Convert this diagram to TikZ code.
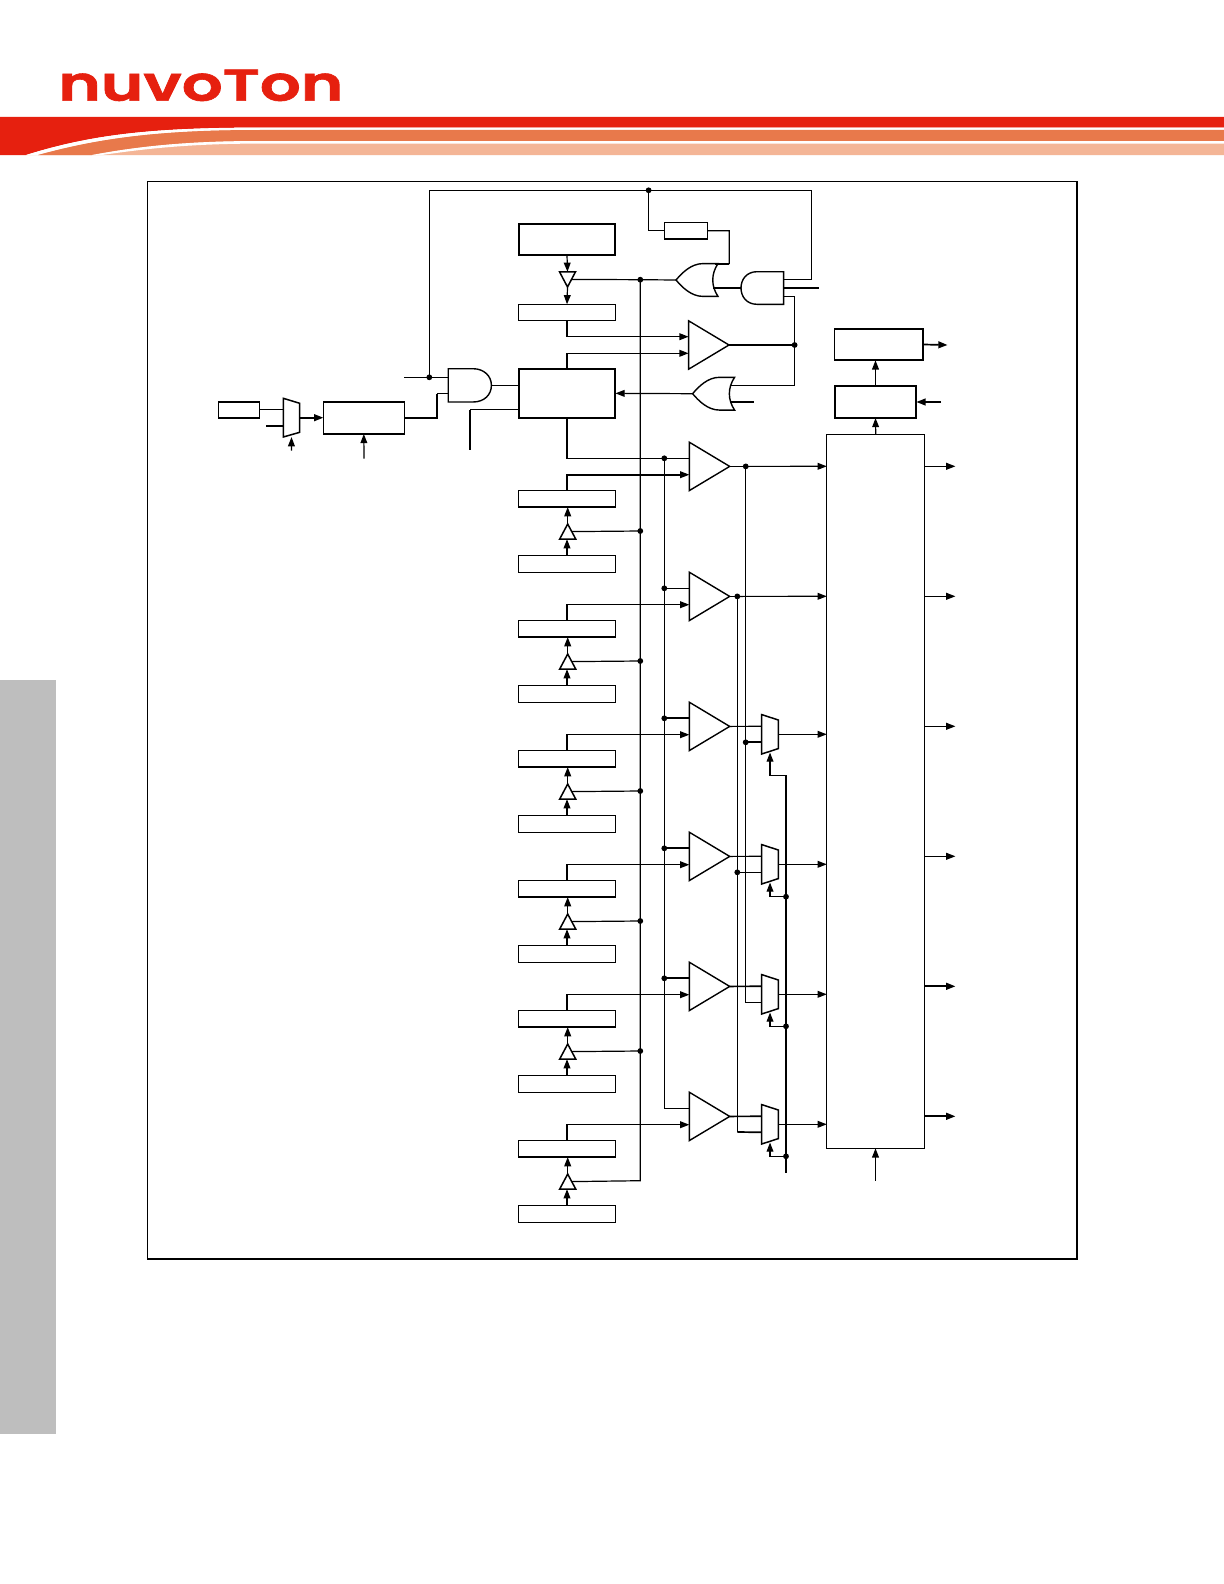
\documentclass[tikz,border=0pt]{standalone}
\usepackage{fontspec}
\usetikzlibrary{arrows.meta,shapes.geometric,calc}
\newfontfamily\logofont[BoldFont={Poppins SemiBold},BoldFeatures={FakeBold=1.2}]{Poppins}
\definecolor{nuvored}{HTML}{E6200F}
\definecolor{nuvoorange}{HTML}{E8794B}
\definecolor{nuvopeach}{HTML}{F4B596}
\definecolor{sidegray}{HTML}{BEBEBE}
\tikzset{
  x=0.5pt,y=-0.5pt,
  wire/.style={line width=0.6pt},
  wirem/.style={line width=0.85pt},
  wireb/.style={line width=1.15pt},
  arr/.style={-{Triangle[length=4.6pt,width=3.4pt]}},
  sbox/.style={draw,line width=0.7pt,inner sep=0pt,outer sep=0pt,fill=white},
  heavybox/.style={line width=1pt},
  joint/.style={circle,fill=black,inner sep=0pt,outer sep=0pt,minimum size=2.9pt},
  gatearea/.style={inner sep=0pt,outer sep=0pt},
  amp/.style={draw,line width=0.7pt,isosceles triangle,isosceles triangle stretches,inner sep=0pt,outer sep=0pt,
     shape border rotate=0,minimum width=24.2pt,minimum height=20.2pt,anchor=apex},
  bufup/.style={draw,line width=0.75pt,isosceles triangle,isosceles triangle stretches,inner sep=0pt,outer sep=0pt,
     shape border rotate=90,minimum width=8.1pt,minimum height=7.6pt,anchor=apex},
  bufdown/.style={draw,line width=0.75pt,isosceles triangle,isosceles triangle stretches,inner sep=0pt,outer sep=0pt,
     shape border rotate=270,minimum width=8pt,minimum height=7.6pt,anchor=apex},
}
% box by its corners, in reference pixels
\newcommand{\pbox}[6][]{%
  \pgfmathsetmacro{\pw}{((#5)-(#3))*0.5}\pgfmathsetmacro{\ph}{((#6)-(#4))*0.5}%
  \pgfmathsetmacro{\pcx}{((#5)+(#3))*0.5}\pgfmathsetmacro{\pcy}{((#6)+(#4))*0.5}%
  \node[sbox,#1,minimum width=\pw pt,minimum height=\ph pt] (#2) at (\pcx,\pcy) {};}
% OR gate with its tip on the left
\newcommand{\orgate}[3]{%
  \node[gatearea,minimum width=21pt,minimum height=16.4pt,anchor=west] (#1) at (#2,#3) {};
  \draw[line width=0.7pt,shift={(#2,#3)}] (27,-16.4) -- (42,-16.4)
    .. controls (35,-6) and (35,6) .. (42,16.4) -- (27,16.4)
    .. controls (15,16.4) and (6,7) .. (0,0) .. controls (6,-7) and (15,-16.4) .. (27,-16.4) -- cycle;}
% multiplexer
\newcommand{\muxshape}[3]{%
  \node[gatearea,minimum width=8.3pt,minimum height=19.7pt] (#1) at (#2,#3) {};
  \draw[line width=0.75pt,shift={(#2,#3)}] (-8.3,-19.7) -- (8.3,-14.3) -- (8.3,14.3) -- (-8.3,19.7) -- cycle;}
\begin{document}
\begin{tikzpicture}
\useasboundingbox (0,0) rectangle (1224,1584);
\fill[white] (0,0) rectangle (1224,1584);
% ---- header band
\fill[nuvopeach] (26,155) .. controls (90,135) and (150,128) .. (260,128) -- (1224,128) -- (1224,155) -- cycle;
\fill[nuvored] (0,117) -- (1224,117) -- (1224,127.6) -- (260,127.6) .. controls (150,127.6) and (90,135) .. (26,155) -- (0,155) -- cycle;
\fill[white] (26,155) .. controls (90,135) and (150,127.6) .. (260,127.6) -- (1224,127.6) -- (1224,130) -- (260,130) .. controls (160,130) and (100,138) .. (38,155) -- cycle;
\fill[nuvoorange] (38,155) .. controls (100,138) and (160,130) .. (260,130) -- (1224,130) -- (1224,141) -- (260,141) .. controls (190,141) and (140,146) .. (92,155) -- cycle;
\fill[white] (92,155) .. controls (140,146) and (190,141) .. (260,141) -- (1224,141) -- (1224,143.6) -- (260,143.6) .. controls (195,143.6) and (150,148) .. (102,155) -- cycle;
\fill[sidegray] (0,680) rectangle (56,1434);
\node[anchor=base west,inner sep=0pt,text=nuvored] (logo) at (58,100.7)
  {\scalebox{1.46}[1.1]{\fontsize{22pt}{24pt}\logofont\bfseries nuvo\scalebox{1}[0.92]{T}on}};
% ---- frame
\draw[line width=0.55pt] (147.5,181.5) rectangle (1077,1259);
% ---- boxes
\pbox[heavybox]{tb}{518.6}{223.7}{615.4}{255}
\pbox{cfg}{518.6}{304.3}{615.4}{320.3}
\pbox[heavybox]{big}{518.6}{368.7}{615.4}{418}
\pbox{res}{664.3}{222.3}{707.5}{239}
\pbox{clk}{218.7}{402}{259.3}{418}
\pbox{pre}{323.3}{402}{404.3}{434}
\pbox[line width=0.85pt]{outbox}{834.6}{328.7}{923.2}{360.3}
\pbox[heavybox]{ctl}{834.6}{385.7}{916.4}{418}
\pbox[line width=0.6pt]{tall}{826.8}{434.3}{924.6}{1148.3}
% ---- gates
\orgate{ora}{676}{280}
\orgate{orb}{692.6}{393.7}
\node[gatearea,minimum width=21.3pt,minimum height=16.3pt] (anda) at (762.3,288) {};
\draw[line width=0.7pt] (783.6,271.7) -- (757,271.7) .. controls (747,271.7) and (741,279) .. (741,288)
  .. controls (741,297) and (747,304.3) .. (757,304.3) -- (783.6,304.3) -- cycle;
\node[gatearea,minimum width=21.6pt,minimum height=16.6pt] (andb) at (469.8,385.3) {};
\draw[line width=0.7pt] (448.2,368.7) -- (473,368.7) .. controls (484,368.7) and (491.4,376) .. (491.4,385.3)
  .. controls (491.4,395) and (484,402) .. (473,402) -- (448.2,402) -- cycle;
% input multiplexer
\node[gatearea,minimum width=8.2pt,minimum height=19.4pt] (inmux) at (291.5,417.7) {};
\draw[line width=0.75pt] (283.3,398.3) -- (299.7,403.3) -- (299.7,432.3) -- (283.3,437) -- cycle;
% top buffer and first amplifier
\node[bufdown] (tbuf) at (567.5,287) {};
\node[amp] (cmpt) at (729,345) {};
% ---- joints
\node[joint] (jtop) at (648.6,190.3) {};
\node[joint] (jor) at (640.3,279.7) {};
\node[joint] (jcmp) at (794.6,345) {};
\node[joint] (jand) at (429.3,377.3) {};
\coordinate (gin) at (404,377.3);
\coordinate (mclk) at (266,425.7);
\coordinate (msel) at (291.4,450.7);
\coordinate (psel) at (364,458.7);
\coordinate (bigin) at (470,450.3);
\coordinate (andout) at (819.3,288);
\coordinate (outa) at (947.5,345);
\coordinate (ctlin) at (941,402);
\coordinate (orbin) at (753.6,401.7);
\coordinate (tallsel) at (875.5,1180.7);
% ---- top connectors
\draw[wire] (anda.east |- 0,279.7) -- (811.4,279.7);
\draw[wirem] (811.4,279.7) -- (811.4,190.3);
\draw[wire] (811.4,190.3) -- (jtop.center) -- (429.3,190.3) -- (jand.center);
\draw[wirem] (anda.east) -- (andout);
\draw[wire] (anda.east |- 0,296.3) -- (794.6,296.3) -- (jcmp.center) -- (794.6,385.7) -- (731,385.7);
\draw[wire] (jtop.center) |- (res.west);
\draw[wire] (res.east) -- (729.3,230.7) -- (729.3,264);
\draw[wirem] (729.3,264) -- (714.5,264);
\draw[wirem] (713,288) -- (anda.west);
\draw[wire] (tbuf.left side) -- (jor.center) -- (ora.west);
\draw[wire,arr] (tb.south) -- (tbuf.lower side);
\draw[wire,arr] (tbuf.apex) -- (cfg.north);
\draw[wire,arr] (cfg.south) |- (cmpt.lower side |- 0,336.7);
\draw[wire,arr] (big.north) |- (cmpt.lower side |- 0,353.3);
\draw[wireb] (cmpt.apex) -- (jcmp.center);
\draw[wire,arr] (orb.west) -- (big.east);
\draw[wirem] (730,401.7) -- (orbin);
\draw[wire] (andb.east) -- (andb.east -| big.west);
\draw[wire] (gin) -- (jand.center) -- (andb.west |- jand.center);
\draw[wire] (andb.west |- 0,393.7) -- (436.8,393.7);
\draw[wirem] (436.8,393.7) -- (436.8,417.7) -- (pre.east |- 0,417.7);
\draw[wire] (big.west |- 0,409.5) -- (470,409.5);
\draw[wirem] (470,409.5) -- (bigin);
\draw[wire] (clk.east |- 0,409.5) -- (inmux.west |- 0,409.5);
\draw[wirem] (mclk) -- (inmux.west |- mclk);
\draw[wirem,arr] (299.7,417.7) -- (pre.west |- 0,417.7);
\draw[wire,arr] (msel) -- (inmux.south);
\draw[wire,arr] (psel) -- (pre.south);
\draw[wirem,arr] (outbox.east) -- (outa);
\draw[wire,arr] (ctl.north) -- (ctl.north |- outbox.south);
\draw[wirem,arr] (ctlin) -- (ctl.east |- ctlin);
\draw[wire,arr] (tall.north |- ctl.south) ++(0,16.3) -- (ctl.south);
\draw[wire,arr] (tallsel) -- (tallsel |- tall.south);
% ---- six repeated channels
\foreach \k [evaluate=\k as \o using \k*130] in {0,...,5}{
  \pbox{rb\k}{518.6}{490.7+\o}{615.4}{507.1+\o}
  \pbox{lb\k}{518.6}{555.7+\o}{615.4}{572.3+\o}
  \node[bufup] (bf\k) at (567.7,524+\o) {};
  \node[amp] (c\k) at (729.7,466.4+\o) {};
  \draw[wire,arr] (lb\k.north) -- (lb\k.north |- bf\k.lower side);
  \draw[wire,arr] (bf\k.apex) -- (bf\k.apex |- rb\k.south);
  \coordinate (up\k) at (c\k.lower side |- 0,458.3+\o);
  \coordinate (lo\k) at (c\k.lower side |- 0,474.7+\o);
  \coordinate (tl\k) at (tall.west |- 0,466.3+\o);
  \coordinate (tr\k) at (955.4,466.3+\o);
}
\foreach \k in {0,...,4}{
  \pgfmathsetmacro{\o}{\k*130}
  \node[joint] (jb\k) at (640.3,531+\o) {};
  \node[joint] (ju\k) at (664.3,458.3+\o) {};
  \draw[wire] (bf\k.right side) -- (jb\k.center);
}
\draw[wire] (jor.center) -- (640.3,1180.7) -- (bf5.right side);
\foreach \k in {0,...,5}{
  \draw[wire,arr] (rb\k.north) |- (lo\k);
}
\draw[wireb] (rb0.north) |- ($(lo0)+(-8,0)$);
\draw[wire] (big.south) |- (ju0.center) -- (up0);
\draw[wire] (ju0.center) -- (664.3,1108.3) -- (up5);
\draw[wire] (ju1.center) -- (up1);
\foreach \k in {2,3,4}{ \draw[wirem] (ju\k.center) -- (up\k); }
% first two outputs
\node[joint] (ja) at (745.7,466.4) {};
\node[joint] (jc) at (737.3,596.4) {};
\draw[wire] (c0.apex) -- (ja.center);
\draw[wire,arr] (ja.center) -- (tl0);
\draw[wire] (c1.apex) -- (jc.center);
\draw[wire,arr] (jc.center) -- (tl1);
% multiplexers
\foreach \k/\ym in {2/734.3,3/864.3,4/994.3,5/1124.3}{
  \muxshape{m\k}{770}{\ym}
  \coordinate (mi\k) at (m\k.west |- 0,\ym-8);
  \coordinate (mj\k) at (m\k.west |- 0,\ym+8);
  \draw[wire,arr] (m\k.east) -- (tall.west |- m\k.east);
}
\draw[wire] (c2.apex) -- (mi2);
\draw[wire] (c3.apex) -- (mi3);
\draw[wirem] (c4.apex) -- (mi4);
\draw[wirem] (c5.apex) -- (mi5);
\node[joint] (jd) at (745.7,742.3) {};
\node[joint] (je) at (737.3,872.3) {};
\draw[wire] (ja.center) -- (jd.center) -- (745.7,1002.3) -- (mj4);
\draw[wirem] (jd.center) -- (mj2);
\draw[wire] (jc.center) -- (je.center) -- (737.3,1132);
\draw[wirem] (737.3,1132) -- (mj5);
\draw[wire] (je.center) -- (mj3);
% select bus
\coordinate (bustop) at (786,775.3);
\coordinate (busend) at (786,1173.3);
\draw[wireb] (bustop) -- (busend);
\draw[wire,arr] (bustop) -- (770,775.3) -- ($(m2.south)+(0,-1.5)$);
\foreach \k/\yj in {3/896.7,4/1026.3,5/1156.3}{
  \node[joint] (js\k) at (786,\yj) {};
  \draw[wire,arr] (js\k.center) -| ($(m\k.south)+(0,-1.5)$);
}
% output stubs
\draw[wire,arr] (tall.east |- tr0) -- (tr0);
\draw[wire,arr] (tall.east |- tr1) -- (tr1);
\draw[wire,arr] (tall.east |- tr2) -- (tr2);
\draw[wire,arr] (tall.east |- tr3) -- (tr3);
\draw[wirem,arr] (tall.east |- tr4) -- (tr4);
\draw[wirem,arr] (tall.east |- tr5) -- (tr5);
\end{tikzpicture}
\end{document}
